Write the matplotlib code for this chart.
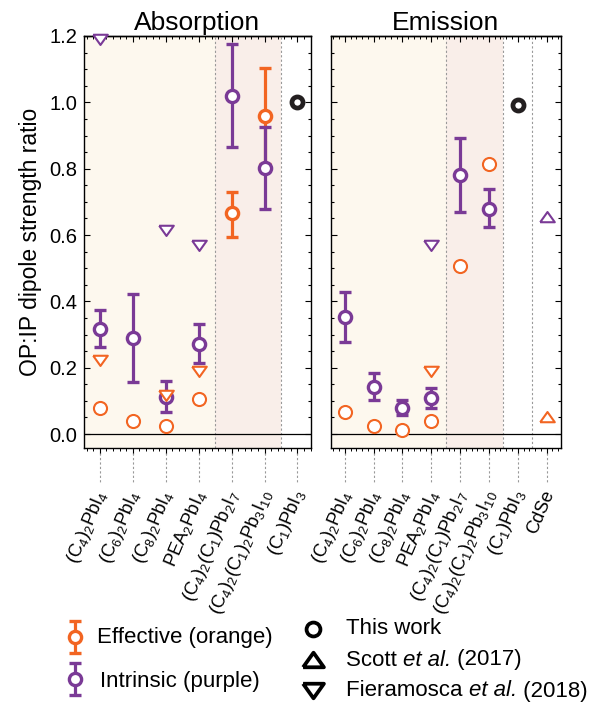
import numpy as np
import matplotlib
matplotlib.use('Agg')
import matplotlib.pyplot as plt
from matplotlib.ticker import MultipleLocator
import matplotlib.transforms as mtransforms

plt.rcParams['font.family'] = ['Liberation Sans', 'DejaVu Sans']
plt.rcParams['mathtext.fontset'] = 'custom'
plt.rcParams['mathtext.rm'] = 'Liberation Sans'
plt.rcParams['mathtext.it'] = 'Liberation Sans:italic'
plt.rcParams['axes.linewidth'] = 1.0

ORANGE = '#F26522'
PURPLE = '#7A3A96'
BLACK = '#231F20'

# ---- data -------------------------------------------------------------
abs_labels = [r'(C$_4$)$_2$PbI$_4$', r'(C$_6$)$_2$PbI$_4$', r'(C$_8$)$_2$PbI$_4$',
              r'PEA$_2$PbI$_4$', r'(C$_4$)$_2$(C$_1$)Pb$_2$I$_7$',
              r'(C$_4$)$_2$(C$_1$)$_2$Pb$_3$I$_{10}$', r'(C$_1$)PbI$_3$']
emi_labels = abs_labels + ['CdSe']

nan = np.nan
# absorption
abs_eff = [0.079, 0.039, 0.024, 0.106, 0.666, 0.959, nan]
abs_eff_lo = [nan, nan, nan, nan, 0.595, 0.814, nan]
abs_eff_hi = [nan, nan, nan, nan, 0.729, 1.104, nan]
abs_int = [0.317, 0.291, 0.113, 0.271, 1.020, 0.802, nan]
abs_int_lo = [0.261, 0.158, 0.067, 0.213, 0.864, 0.679, nan]
abs_int_hi = [0.374, 0.422, 0.161, 0.332, 1.177, 0.926, nan]
abs_fier_eff = [0.222, nan, 0.118, 0.190, nan, nan, nan]
abs_fier_int = [1.190, nan, 0.614, 0.570, nan, nan, nan]
abs_scott_eff = [nan] * 7
abs_scott_int = [nan] * 7
abs_this = [nan, nan, nan, nan, nan, nan, 1.000]

# emission
emi_eff = [0.067, 0.025, 0.012, 0.040, 0.508, 0.815, nan, nan]
emi_eff_lo = [nan] * 8
emi_eff_hi = [nan] * 8
emi_int = [0.354, 0.142, 0.080, 0.109, 0.781, 0.678, nan, nan]
emi_int_lo = [0.279, 0.104, 0.057, 0.079, 0.668, 0.623, nan, nan]
emi_int_hi = [0.427, 0.185, 0.103, 0.140, 0.894, 0.739, nan, nan]
emi_fier_eff = [nan, nan, nan, 0.191, nan, nan, nan, nan]
emi_fier_int = [nan, nan, nan, 0.570, nan, nan, nan, nan]
emi_scott_eff = [nan, nan, nan, nan, nan, nan, nan, 0.050]
emi_scott_int = [nan, nan, nan, nan, nan, nan, nan, 0.655]
emi_this = [nan, nan, nan, nan, nan, nan, 0.992, nan]

# flattened triangles
TRI_DOWN = [(-1, 0.65), (1, 0.65), (0, -0.75), (-1, 0.65)]
TRI_UP = [(-1, -0.65), (1, -0.65), (0, 0.75), (-1, -0.65)]


def draw_points(ax, x, vals, lo, hi, color, z):
    vals = np.array(vals, float)
    lo = np.array(lo, float)
    hi = np.array(hi, float)
    has_err = ~np.isnan(lo)
    # points with error bars
    if has_err.any():
        xe = x[has_err]
        ve = vals[has_err]
        yerr = [ve - lo[has_err], hi[has_err] - ve]
        ax.errorbar(xe, ve, yerr=yerr, fmt='o', color=color, ms=8.8, mfc='white',
                    mec=color, mew=2.4, elinewidth=2.3, capsize=4, capthick=2.6,
                    zorder=z, clip_on=False)
    plain = (~has_err) & ~np.isnan(vals)
    if plain.any():
        ax.plot(x[plain], vals[plain], 'o', ms=9.4, mfc='white', mec=color,
                mew=1.5, zorder=z, clip_on=False)


def draw_panel(ax, labels, eff, eff_lo, eff_hi, intr, intr_lo, intr_hi,
               fier_eff, fier_int, scott_eff, scott_int, this, xmax, dividers, title):
    x = np.arange(len(labels))
    ax.set_xlim(-0.48, xmax)
    ax.set_ylim(-0.042, 1.2)
    ax.axvspan(-0.48, 3.5, color='#FDF8EE', zorder=0, lw=0)
    ax.axvspan(3.5, 5.5, color='#F9EEE9', zorder=0, lw=0)
    for d in dividers:
        ax.axvline(d, color='#999999', lw=0.8, ls=(0, (2, 2)), zorder=1)
    ax.axhline(0, color='black', lw=0.9, zorder=1)

    draw_points(ax, x, eff, eff_lo, eff_hi, ORANGE, 3)
    draw_points(ax, x, intr, intr_lo, intr_hi, PURPLE, 4)

    ax.plot(x, fier_int, ls='none', marker=TRI_DOWN, ms=10.5, mfc='white', mec=PURPLE,
            mew=1.5, zorder=5, clip_on=False)
    ax.plot(x, fier_eff, ls='none', marker=TRI_DOWN, ms=10.5, mfc='white', mec=ORANGE,
            mew=1.5, zorder=5, clip_on=False)
    ax.plot(x, scott_int, ls='none', marker=TRI_UP, ms=10.5, mfc='white', mec=PURPLE,
            mew=1.5, zorder=5, clip_on=False)
    ax.plot(x, scott_eff, ls='none', marker=TRI_UP, ms=10.5, mfc='white', mec=ORANGE,
            mew=1.5, zorder=5, clip_on=False)
    ax.plot(x, this, 'o', ms=8, mfc='white', mec=BLACK, mew=3.4, zorder=5)

    # ticks
    ax.set_xticks(x)
    ax.set_xticklabels([])
    ax.xaxis.set_minor_locator(MultipleLocator(0.2))
    ax.tick_params(axis='x', which='major', direction='out', length=4, width=0.8)
    ax.tick_params(axis='x', which='minor', direction='out', length=2.5, width=0.7)
    ax.yaxis.set_major_locator(MultipleLocator(0.2))
    ax.yaxis.set_minor_locator(MultipleLocator(0.05))
    ax.tick_params(axis='y', which='both', direction='in', left=True, right=True,
                   width=0.8)
    ax.tick_params(axis='y', which='major', length=4.5, labelsize=14.5, pad=5)
    ax.tick_params(axis='y', which='minor', length=2.5)
    top = ax.secondary_xaxis('top')
    top.set_xticks(x)
    top.set_xticklabels([])
    top.xaxis.set_minor_locator(MultipleLocator(0.2))
    top.tick_params(which='major', direction='in', length=4, width=0.8)
    top.tick_params(which='minor', direction='in', length=2.5, width=0.7)

    # leader lines and rotated category labels
    trans = mtransforms.blended_transform_factory(ax.transData, ax.transAxes)
    for xi, lab in zip(x, labels):
        ax.plot([xi, xi], [-0.012, -0.088], transform=trans, color='#999999',
                lw=0.8, ls=(0, (2, 2)), clip_on=False)
        ax.text(xi + 0.1, -0.105, lab, transform=trans, rotation=67,
                rotation_mode='anchor', ha='right', va='center', fontsize=13.2)

    ax.set_title(title, fontsize=19, pad=4)


fig = plt.figure(figsize=(5.92, 7.04), dpi=100)
ax1 = fig.add_axes([84 / 592, 1 - 448 / 704, 227 / 592, 412 / 704])
ax2 = fig.add_axes([331 / 592, 1 - 448 / 704, 230 / 592, 412 / 704])

draw_panel(ax1, abs_labels, abs_eff, abs_eff_lo, abs_eff_hi, abs_int, abs_int_lo,
           abs_int_hi, abs_fier_eff, abs_fier_int, abs_scott_eff, abs_scott_int,
           abs_this, 6.41, [3.5, 5.5], 'Absorption')
draw_panel(ax2, emi_labels, emi_eff, emi_eff_lo, emi_eff_hi, emi_int, emi_int_lo,
           emi_int_hi, emi_fier_eff, emi_fier_int, emi_scott_eff, emi_scott_int,
           emi_this, 7.5, [3.5, 5.5, 6.5], 'Emission')

ax1.set_ylabel('OP:IP dipole strength ratio', fontsize=16.5, labelpad=5)
ax1.yaxis.set_major_formatter(matplotlib.ticker.FormatStrFormatter('%.1f'))
ax2.set_yticklabels([])

# ---- legend (drawn in pixel coordinates) -------------------------------
lg = fig.add_axes([0, 0, 1, 1], zorder=-1)
lg.set_xlim(0, 592)
lg.set_ylim(704, 0)
lg.axis('off')
lg.errorbar([75], [637], yerr=[[16], [16]], fmt='o', color=ORANGE, ms=8.8,
            mfc='white', mec=ORANGE, mew=2.4, elinewidth=2.3, capsize=4, capthick=2.6)
lg.errorbar([75], [679], yerr=[[16], [16]], fmt='o', color=PURPLE, ms=8.8,
            mfc='white', mec=PURPLE, mew=2.4, elinewidth=2.3, capsize=4, capthick=2.6)
lg.text(97, 638, 'Effective (orange)', fontsize=16, va='center', ha='left')
lg.text(100, 681, 'Intrinsic (purple)', fontsize=16, va='center', ha='left')

lg.plot([313], [629], 'o', ms=10, mfc='white', mec='black', mew=2.7)
lg.plot([313], [660], ls='none', marker=TRI_UP, ms=15, mfc='white', mec='black', mew=2.7)
lg.plot([313], [690], ls='none', marker=TRI_DOWN, ms=15, mfc='white', mec='black', mew=2.7)
lg.text(346, 629, 'This work', fontsize=16, va='center', ha='left')

# author entries with italic "et al."
for yy, name, year in [(660, 'Scott ', ' (2017)'), (691, 'Fieramosca ', ' (2018)')]:
    t1 = lg.text(346, yy, name, fontsize=16, va='center', ha='left')
    t2 = lg.annotate('et al.', xy=(1, 0), xycoords=t1, fontsize=16, style='italic',
                     va='bottom', ha='left')
    lg.annotate(year, xy=(1, 0), xycoords=t2, fontsize=16, va='bottom', ha='left')

fig.savefig('out.png', dpi=100)
